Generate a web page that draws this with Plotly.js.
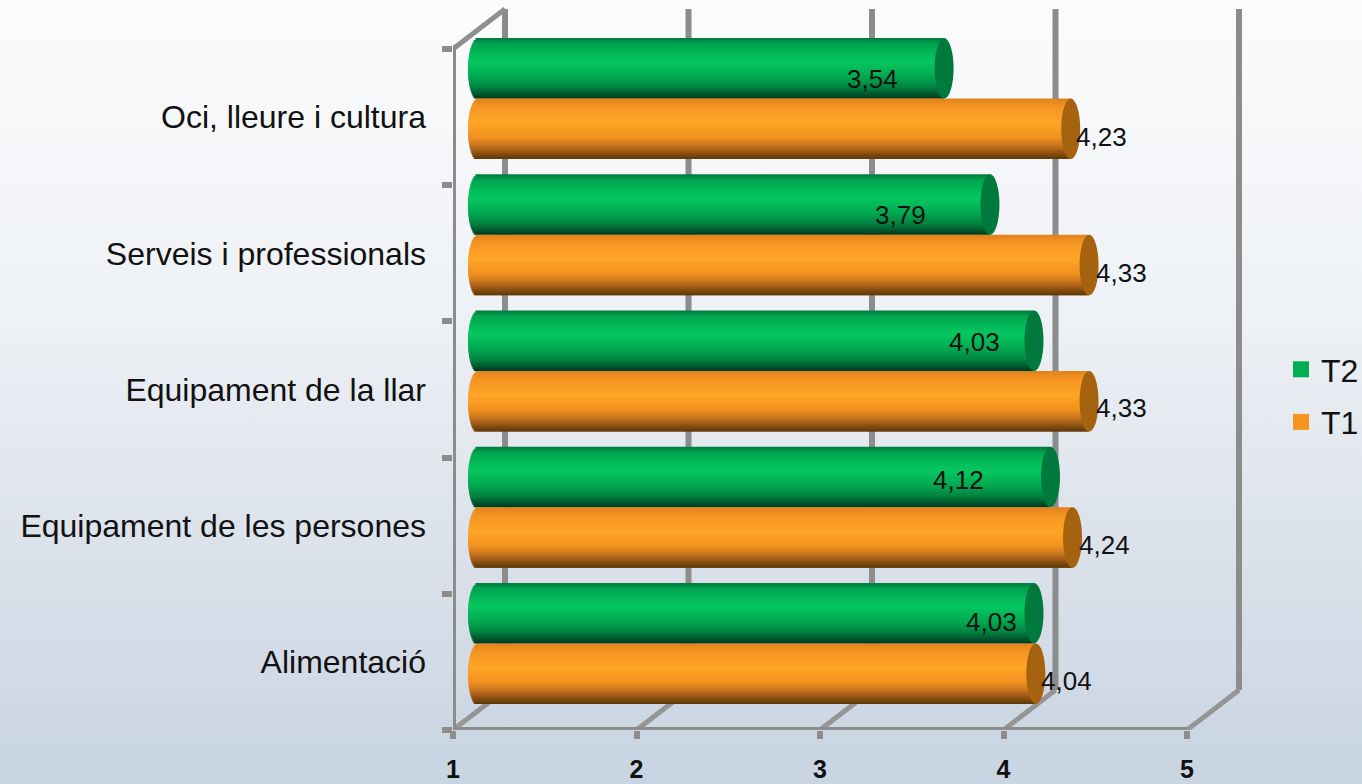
<!DOCTYPE html>
<html>
<head>
<meta charset="utf-8">
<script src="https://cdn.plot.ly/plotly-3.0.1.min.js"></script>
<style>
html,body{margin:0;padding:0;width:1362px;height:784px;overflow:hidden;background:linear-gradient(180deg,#fbfcfd 0%,#eef1f5 40%,#d8dfe9 75%,#c8d4e2 100%);}
#chart{width:1362px;height:784px;}
</style>
</head>
<body>
<div id="chart"></div>
<script>
const categories = ['Alimentació','Equipament de les persones','Equipament de la llar','Serveis i professionals','Oci, lleure i cultura'];
const valuesT2 = [4.03,4.12,4.03,3.79,3.54];
const valuesT1 = [4.04,4.24,4.33,4.33,4.23];
const xTicks = [1,2,3,4,5];
const labelShiftT2 = [-43,-92,-60,-89,-72];
const labelShiftT1 = [31,32,32,32,31];
const labelRiseT2 = [-9,-3,-1,-10,-11];
const labelRiseT1 = [-7,-8,-7,-8,-8];

const W=1362,H=784;
const pxLeft=453,pxRight=1187,pxTop=49,pxBottom=730;
const pxPerX=(pxRight-pxLeft)/4, pxPerBand=(pxBottom-pxTop)/5;
const barDX=25, barDY=18.5, depthX=52, depthY=40;
const rx=9.5/pxPerX, bulgeLeft=10/pxPerX, halfBand=60.5/pxPerBand, strips=30;
const grey='#8c8c8c';
// the frame axes run on past 5 so the back wall fits
const pxFrameRight=1245, pxFrameTop=5;
const xFrameMax=1+(pxFrameRight-pxLeft)/pxPerX, yFrameMax=(pxBottom-pxFrameTop)/pxPerBand;
// the bar axes start a little before 1 so the rounded left end fits
const xBarMin=0.8,xBarMax=5.2;

function stopsColor(stops,t){
  for(let i=1;i<stops.length;i++){
    if(t<=stops[i][0]){
      const a=stops[i-1],b=stops[i],f=(t-a[0])/(b[0]-a[0]);
      return 'rgb('+[0,1,2].map(k=>Math.round(a[1][k]+(b[1][k]-a[1][k])*f)).join(',')+')';
    }
  }
  const l=stops[stops.length-1][1];return 'rgb('+l.join(',')+')';
}
const greenStops=[[0,[0,120,60]],[0.1,[0,165,80]],[0.38,[6,200,95]],[0.6,[2,175,85]],[0.8,[0,135,65]],[0.93,[0,85,45]],[1,[0,55,30]]];
const orangeStops=[[0,[225,130,30]],[0.15,[245,150,35]],[0.4,[255,165,40]],[0.65,[240,145,30]],[0.8,[190,110,30]],[0.92,[130,75,15]],[1,[95,55,10]]];

const traces=[];
function frame(xs,ys,w,c){traces.push({type:'scatter',mode:'lines',x:xs,y:ys,xaxis:'x',yaxis:'y',cliponaxis:false,showlegend:false,hoverinfo:'skip',line:{color:c||grey,width:w}});}
const dx=depthX/pxPerX, dy=depthY/pxPerBand;
xTicks.forEach(k=>{
  frame([k,k+dx],[0,dy],5,'#959595');
  frame([k+dx,k+dx],[dy,5+dy],6);
});
frame([1,1+dx],[5,5+dy],5,'#8f8f8f');
frame([1,1],[0,5],6);
frame([1,5],[0,0],6);

[['T2','#00b050'],['T1','#f79420']].forEach(([n,c])=>{
  traces.push({type:'scatter',mode:'markers',x:[null],y:[null],xaxis:'x',yaxis:'y',name:n,legendgroup:n,marker:{symbol:'square',size:16,color:c},hoverinfo:'skip'});
});

// each strip runs one strip further down and the next one paints over that, so no gaps show
function addCylinder(name,values,from,stops){
  const h=halfBand/strips;
  for(let i=0;i<strips;i++){
    const t0=i/strips,t1=(i+1)/strips,tm=(t0+t1)/2;
    const bulge=bulgeLeft*Math.sqrt(Math.max(0,1-Math.pow(2*tm-1,2)));
    const extra=i<strips-1?h:0;
    traces.push({type:'bar',orientation:'h',name:name,showlegend:false,legendgroup:name,
      y:categories,x:values.map(v=>v-1+bulge),base:values.map(()=>1-bulge),
      width:h+extra,offset:from+halfBand*(1-t1)-extra,
      xaxis:'x2',yaxis:'y2',cliponaxis:false,opacity:1,
      marker:{color:stopsColor(stops,tm),opacity:1,line:{width:0}},hoverinfo:'skip'});
  }
}
addCylinder('T2',valuesT2,0,greenStops);
addCylinder('T1',valuesT1,-halfBand,orangeStops);

const shapes=[], annotations=[];
function caps(values,center,col){
  values.forEach((v,i)=>shapes.push({type:'circle',xref:'x2',yref:'y2',x0:v-rx,x1:v+rx,y0:i+center-halfBand/2,y1:i+center+halfBand/2,fillcolor:col,line:{width:0},layer:'above'}));
}
caps(valuesT2,halfBand/2,'#007a3c');
caps(valuesT1,-halfBand/2,'#a5630f');
function labels(values,center,shift,rise){
  values.forEach((v,i)=>annotations.push({xref:'x2',yref:'y2',x:v,y:i+center,xshift:shift[i],yshift:rise[i],text:v.toFixed(2).replace('.',','),showarrow:false,xanchor:'center',yanchor:'middle',font:{family:'Liberation Sans',size:26,color:'#111'}}));
}
labels(valuesT2,halfBand/2,labelShiftT2,labelRiseT2);
labels(valuesT1,-halfBand/2,labelShiftT1,labelRiseT1);

const layout={
  width:W,height:H,margin:{l:0,r:0,t:0,b:0,autoexpand:false},
  paper_bgcolor:'rgba(0,0,0,0)',plot_bgcolor:'rgba(0,0,0,0)',
  barmode:'overlay',showlegend:true,
  font:{family:'Liberation Sans',color:'#111'},
  xaxis:{domain:[pxLeft/W,pxFrameRight/W],range:[1,xFrameMax],tickmode:'array',tickvals:xTicks,ticks:'outside',ticklen:8,tickwidth:6,tickcolor:grey,
    showgrid:false,zeroline:false,showline:false,anchor:'y',
    tickfont:{family:'Liberation Sans',size:25,color:'#111',weight:'bold'},ticklabelstandoff:9},
  yaxis:{domain:[(H-pxBottom)/H,(H-pxFrameTop)/H],range:[0,yFrameMax],anchor:'x',showgrid:false,zeroline:false,showline:false,
    tickmode:'array',tickvals:categories.map((c,i)=>i+0.5),ticktext:categories,ticks:'',
    tickfont:{family:'Liberation Sans',size:32,color:'#111'},ticklabelstandoff:26,
    minor:{tickmode:'array',tickvals:[0,1,2,3,4,5],ticks:'outside',ticklen:10,tickwidth:6,tickcolor:grey,showgrid:false}},
  xaxis2:{domain:[(pxLeft+barDX+(xBarMin-1)*pxPerX)/W,(pxRight+barDX+(xBarMax-5)*pxPerX)/W],range:[xBarMin,xBarMax],visible:false,anchor:'y2'},
  yaxis2:{domain:[(H-pxBottom+barDY)/H,(H-pxTop+barDY)/H],type:'category',categoryorder:'array',categoryarray:categories,range:[-0.5,4.5],visible:false,anchor:'x2'},
  legend:{x:1281/W,y:(H-342)/H,xanchor:'left',yanchor:'top',bgcolor:'rgba(0,0,0,0)',font:{family:'Liberation Sans',size:32,color:'#111'},tracegroupgap:8,itemwidth:30},
  shapes:shapes,annotations:annotations
};
Plotly.newPlot('chart',traces,layout,{displayModeBar:false,staticPlot:true});
</script>
</body>
</html>
